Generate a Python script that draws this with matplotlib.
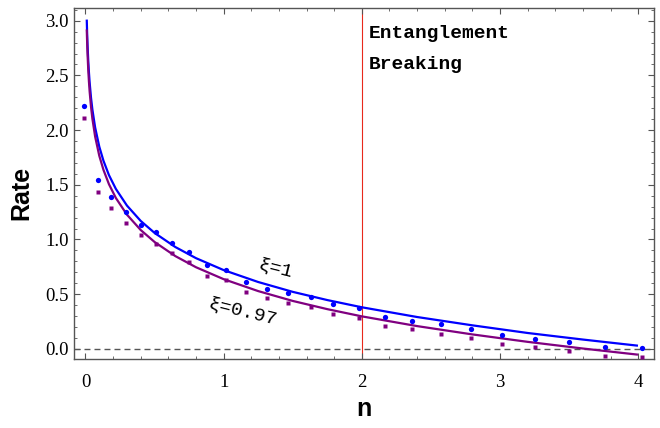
import numpy as np
import matplotlib
matplotlib.use("Agg")
import matplotlib.pyplot as plt
from matplotlib.ticker import MultipleLocator

# ---- data ----
n_curve = [0.0095, 0.012, 0.015, 0.02, 0.025, 0.03, 0.04, 0.05, 0.07, 0.1, 0.13, 0.17,
           0.22, 0.3, 0.4, 0.5, 0.65, 0.8, 1.0, 1.25, 1.5, 1.75, 2.0, 2.4, 2.8, 3.2, 3.6, 3.99]
rate_xi1 = [3.00, 2.887, 2.778, 2.637, 2.528, 2.438, 2.297, 2.188, 2.023, 1.848, 1.720, 1.588,
            1.462, 1.310, 1.169, 1.060, 0.931, 0.829, 0.720, 0.611, 0.521, 0.446, 0.380,
            0.291, 0.215, 0.145, 0.085, 0.030]
rate_xi097 = [2.91, 2.804, 2.695, 2.555, 2.445, 2.355, 2.215, 2.105, 1.940, 1.765, 1.637, 1.505,
              1.379, 1.227, 1.086, 0.977, 0.848, 0.746, 0.637, 0.528, 0.438, 0.363, 0.297,
              0.208, 0.132, 0.064, 0.003, -0.052]

n_pts = [-0.008, 0.090, 0.187, 0.293, 0.399, 0.512, 0.628, 0.751, 0.881, 1.019, 1.164, 1.313,
         1.468, 1.629, 1.791, 1.977, 2.167, 2.365, 2.572, 2.790, 3.014, 3.250, 3.496, 3.759, 4.030]
pts_xi1 = [2.224, 1.548, 1.392, 1.255, 1.136, 1.067, 0.965, 0.884, 0.765, 0.719, 0.615, 0.551,
           0.509, 0.478, 0.409, 0.375, 0.295, 0.253, 0.226, 0.182, 0.131, 0.094, 0.067, 0.021, 0.012]
pts_xi097 = [2.114, 1.438, 1.292, 1.155, 1.045, 0.963, 0.875, 0.793, 0.670, 0.628, 0.524, 0.469,
             0.418, 0.387, 0.320, 0.286, 0.213, 0.180, 0.140, 0.095, 0.048, 0.021, -0.016, -0.061, -0.070]

n_break = 2.0

W, H = 660, 428
fig = plt.figure(figsize=(W / 100, H / 100), dpi=100)
ax = fig.add_axes([74 / W, 1 - 358.7 / H, (654 - 74) / W, (358.7 - 8) / H])

frame_col = "#555555"
mono = ["Liberation Mono", "DejaVu Sans Mono"]
sans = ["Liberation Sans", "DejaVu Sans"]

# reference lines: zero level and entanglement-breaking threshold
ax.axhline(0, color="#555555", lw=1.0, dashes=(4.3, 2.9), zorder=1)
ax.axvline(n_break, color="#e8291c", lw=0.8, zorder=1)

ax.plot(n_curve, rate_xi1, color="#0000ff", lw=1.6, zorder=3)
ax.plot(n_curve, rate_xi097, color="#800080", lw=1.6, zorder=3)
ax.plot(n_pts, pts_xi1, "o", color="#0000ff", ms=3.8, mec="none", zorder=4)
ax.plot(n_pts, pts_xi097, "s", color="#800080", ms=3.4, mec="none", zorder=4)

ax.text(2.051, 2.84, "Entanglement", family=mono, fontweight="bold", fontsize=14)
ax.text(2.051, 2.554, "Breaking", family=mono, fontweight="bold", fontsize=14)

ax.text(1.375, 0.736, "ξ=1", family=mono, fontsize=14, rotation=-14,
        ha="center", va="center", rotation_mode="anchor")
ax.text(1.135, 0.341, "ξ=0.97", family=mono, fontsize=14, rotation=-14,
        ha="center", va="center", rotation_mode="anchor")

ax.set_xlim(-0.083, 4.114)
ax.set_ylim(-0.09, 3.116)

ax.xaxis.set_major_locator(MultipleLocator(1))
ax.xaxis.set_minor_locator(MultipleLocator(0.2))
ax.yaxis.set_minor_locator(MultipleLocator(0.1))
ax.set_yticks(np.arange(0, 3.01, 0.5))
ax.set_yticklabels(["0.0", "0.5", "1.0", "1.5", "2.0", "2.5", "3.0"])

ax.tick_params(which="both", direction="in", top=True, right=True, color=frame_col,
               labelsize=13.5)
ax.tick_params(axis="y", pad=4)
ax.tick_params(axis="x", pad=11)
ax.tick_params(which="major", length=4.5, width=0.8)
ax.tick_params(which="minor", length=2.5, width=0.6)
for lab in ax.get_xticklabels() + ax.get_yticklabels():
    lab.set_family(["Liberation Serif", "DejaVu Serif"])
for sp in ax.spines.values():
    sp.set_color(frame_col)
    sp.set_linewidth(1.0)

ax.set_xlabel("n", family=sans, fontweight="bold", fontsize=18)
ax.set_ylabel("Rate", family=sans, fontweight="bold", fontsize=18, va="center")
ax.xaxis.set_label_coords(0.5, -0.11)
ax.yaxis.set_label_coords(-0.09, 0.474)

fig.savefig("out.png", dpi=100)
